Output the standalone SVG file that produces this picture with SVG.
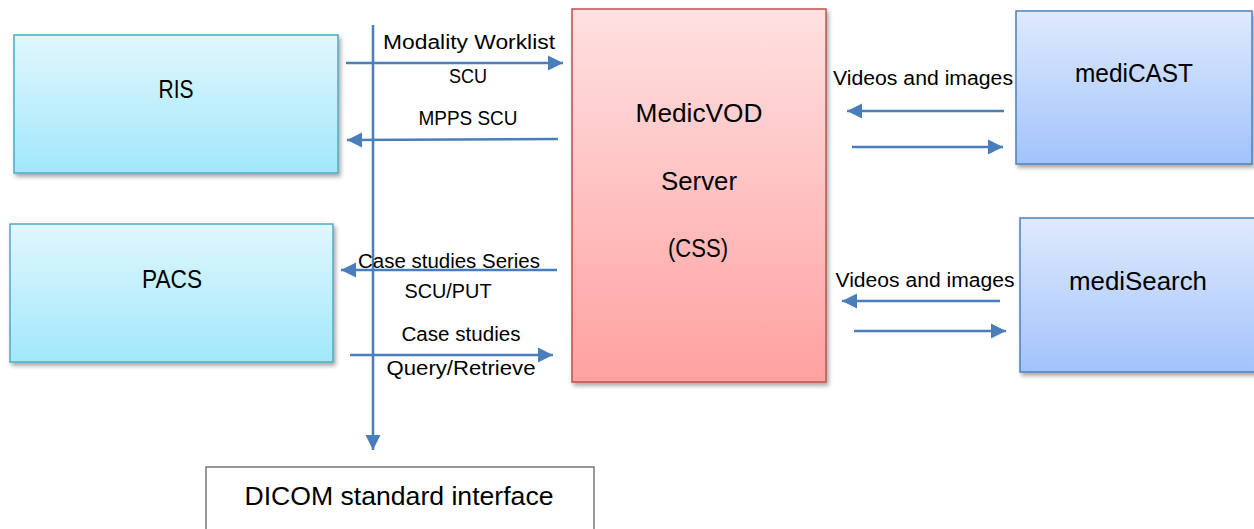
<svg xmlns="http://www.w3.org/2000/svg" width="1254" height="529" viewBox="0 0 1254 529">
<style>
  text { font-family: "Liberation Sans", Arial, sans-serif; fill: #000; text-anchor: middle; }
  .node { font-size: 25px; }
  .lbl { font-size: 20px; }
  .conn { stroke: #4a7ebb; stroke-width: 2.5; fill: none; }
  .arr { marker-end: url(#ah); }
</style>
<defs>
  <linearGradient id="gCyan" x1="0" y1="0" x2="0" y2="1">
    <stop offset="0" stop-color="#e1f7fd"/>
    <stop offset="1" stop-color="#a1e8fb"/>
  </linearGradient>
  <linearGradient id="gRed" x1="0" y1="0" x2="0" y2="1">
    <stop offset="0" stop-color="#ffe1e1"/>
    <stop offset="1" stop-color="#ffa1a1"/>
  </linearGradient>
  <linearGradient id="gBlue" x1="0" y1="0" x2="0" y2="1">
    <stop offset="0" stop-color="#dfeafd"/>
    <stop offset="1" stop-color="#a2c3fb"/>
  </linearGradient>
  <filter id="sh" x="-10%" y="-10%" width="130%" height="130%">
    <feDropShadow dx="2" dy="3" stdDeviation="2" flood-color="#000" flood-opacity="0.35"/>
  </filter>
  <marker id="ah" markerUnits="userSpaceOnUse" markerWidth="16" markerHeight="16" refX="15" refY="8" orient="auto">
    <path d="M0,0.5 L15,8 L0,15.5 Z" fill="#4a7ebb"/>
  </marker>
</defs>
<rect width="1254" height="529" fill="#fff"/>

<g id="ris">
  <rect x="14" y="35" width="324" height="138" fill="url(#gCyan)" stroke="#4bacc6" stroke-width="1.5" filter="url(#sh)"/>
  <text class="node" x="176" y="98" textLength="35" lengthAdjust="spacingAndGlyphs">RIS</text>
</g>
<g id="pacs">
  <rect x="10" y="224" width="323" height="138" fill="url(#gCyan)" stroke="#4bacc6" stroke-width="1.5" filter="url(#sh)"/>
  <text class="node" x="172" y="288" textLength="60" lengthAdjust="spacingAndGlyphs">PACS</text>
</g>
<g id="medicvod">
  <rect x="572" y="9" width="254" height="373" fill="url(#gRed)" stroke="#c0504d" stroke-width="1.5" filter="url(#sh)"/>
  <text class="node" x="699" y="122" textLength="127" lengthAdjust="spacingAndGlyphs">MedicVOD</text>
  <text class="node" x="699" y="190" textLength="76" lengthAdjust="spacingAndGlyphs">Server</text>
  <text class="node" x="698" y="257" textLength="60" lengthAdjust="spacingAndGlyphs">(CSS)</text>
</g>
<g id="medicast">
  <rect x="1016" y="11" width="236" height="153" fill="url(#gBlue)" stroke="#4f81bd" stroke-width="1.5" filter="url(#sh)"/>
  <text class="node" x="1134" y="82" textLength="118" lengthAdjust="spacingAndGlyphs">mediCAST</text>
</g>
<g id="medisearch">
  <rect x="1020" y="218" width="240" height="154" fill="url(#gBlue)" stroke="#4f81bd" stroke-width="1.5" filter="url(#sh)"/>
  <text class="node" x="1138" y="290" textLength="138" lengthAdjust="spacingAndGlyphs">mediSearch</text>
</g>
<g id="dicom">
  <rect x="206" y="467" width="388" height="70" fill="#fff" stroke="#555" stroke-width="1.2"/>
  <text class="node" x="399" y="505" textLength="309" lengthAdjust="spacingAndGlyphs">DICOM standard interface</text>
</g>

<g id="connectors">
  <line class="conn arr" x1="373" y1="25" x2="373" y2="450"/>
  <line class="conn arr" x1="346" y1="63" x2="563" y2="63"/>
  <line class="conn arr" x1="558" y1="139" x2="347" y2="140"/>
  <line class="conn arr" x1="557" y1="270" x2="341" y2="270"/>
  <line class="conn arr" x1="350" y1="355" x2="553" y2="355"/>
  <line class="conn arr" x1="1004" y1="111" x2="847" y2="111"/>
  <line class="conn arr" x1="852" y1="147" x2="1003" y2="147"/>
  <line class="conn arr" x1="1000" y1="301" x2="842" y2="301"/>
  <line class="conn arr" x1="854" y1="331" x2="1006" y2="331"/>
  <text class="lbl" x="469" y="49" textLength="172" lengthAdjust="spacingAndGlyphs">Modality Worklist</text>
  <text class="lbl" x="468" y="83" textLength="38" lengthAdjust="spacingAndGlyphs">SCU</text>
  <text class="lbl" x="468" y="125" textLength="99" lengthAdjust="spacingAndGlyphs">MPPS SCU</text>
  <text class="lbl" x="449" y="268" textLength="182" lengthAdjust="spacingAndGlyphs">Case studies Series</text>
  <text class="lbl" x="448" y="298" textLength="87" lengthAdjust="spacingAndGlyphs">SCU/PUT</text>
  <text class="lbl" x="461" y="341" textLength="119" lengthAdjust="spacingAndGlyphs">Case studies</text>
  <text class="lbl" x="461" y="375" textLength="149" lengthAdjust="spacingAndGlyphs">Query/Retrieve</text>
  <text class="lbl" x="923" y="85" textLength="180" lengthAdjust="spacingAndGlyphs">Videos and images</text>
  <text class="lbl" x="925" y="287" textLength="179" lengthAdjust="spacingAndGlyphs">Videos and images</text>
</g>
</svg>
